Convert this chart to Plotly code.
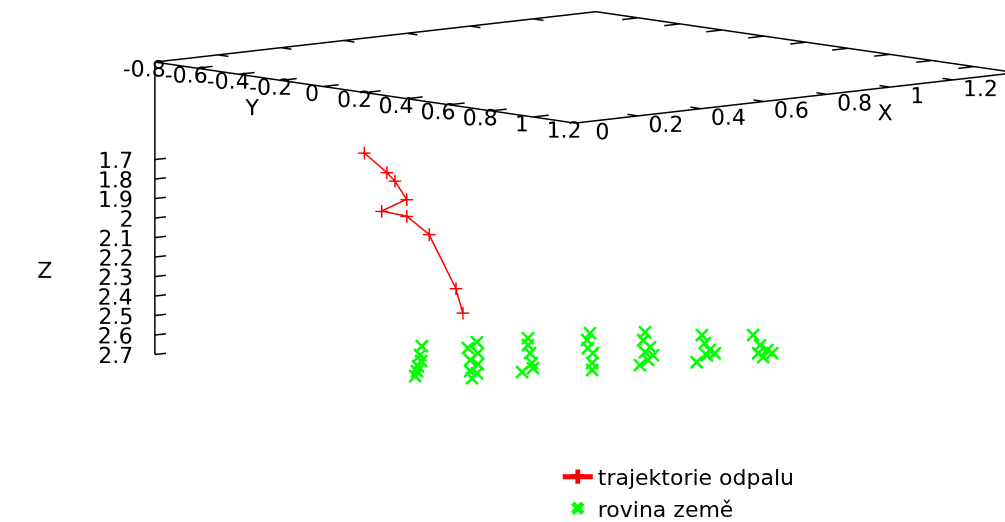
import plotly.graph_objects as go

# trajectory of the shot (x, y, z)
traj_x = [0.574, 0.613, 0.596, 0.604, 0.488, 0.543, 0.574, 0.581, 0.581]
traj_y = [-0.665, -0.616, -0.552, -0.508, -0.453, -0.416, -0.356, -0.239, -0.206]
traj_z = [1.75, 1.85, 1.88, 1.97, 2.00, 2.03, 2.12, 2.38, 2.50]

# ground plane points (x, y, z)
ground_x = [0.156, 0.153, 0.155, 0.149, 0.147, 0.144,
            0.266, 0.250, 0.268, 0.254, 0.268, 0.254, 0.266, 0.257,
            0.430, 0.430, 0.434, 0.437, 0.420, 0.439,
            0.565, 0.560, 0.561, 0.570, 0.569, 0.569,
            0.699, 0.696, 0.708, 0.699, 0.713, 0.705, 0.690,
            0.800, 0.805, 0.814, 0.823, 0.809, 0.791,
            0.916, 0.928, 0.941, 0.950, 0.934, 0.925]
ground_y = [0.237, 0.233, 0.235, 0.229, 0.227, 0.223,
            0.334, 0.315, 0.336, 0.320, 0.336, 0.320, 0.334, 0.324,
            0.331, 0.331, 0.335, 0.339, 0.318, 0.341,
            0.424, 0.418, 0.420, 0.430, 0.428, 0.428,
            0.485, 0.481, 0.495, 0.485, 0.502, 0.491, 0.474,
            0.604, 0.610, 0.620, 0.631, 0.614, 0.593,
            0.674, 0.689, 0.704, 0.714, 0.695, 0.685]
ground_z = [2.523, 2.569, 2.600, 2.626, 2.651, 2.677,
            2.508, 2.538, 2.564, 2.600, 2.621, 2.656, 2.667, 2.692,
            2.518, 2.554, 2.595, 2.646, 2.692, 2.672,
            2.503, 2.538, 2.579, 2.605, 2.656, 2.692,
            2.513, 2.554, 2.590, 2.615, 2.631, 2.656, 2.682,
            2.528, 2.569, 2.605, 2.621, 2.631, 2.667,
            2.538, 2.590, 2.615, 2.631, 2.651, 2.631]

# axis box (gnuplot style: base plane at z = 1.2, z axis down to 2.7)
x_ticks = [0, 0.2, 0.4, 0.6, 0.8, 1, 1.2]
y_ticks = [-0.8, -0.6, -0.4, -0.2, 0, 0.2, 0.4, 0.6, 0.8, 1, 1.2]
z_ticks = [1.7, 1.8, 1.9, 2, 2.1, 2.2, 2.3, 2.4, 2.5, 2.6, 2.7]
x_box = [0, 1.4]
y_box = [-0.8, 1.2]
z_box = [1.2, 2.7]

# visible window of the 3D scene (wider than the box so labels are not clipped)
x_view = [-0.42, 1.42]
y_view = [-1.2, 1.41]
z_view = [1.171, 3.171]

FONT = "DejaVu Sans"
FS = 22
PX_PER_ASPECT = 261.0          # screen pixels per scene aspect unit
PX_PER_UNIT = (421.1, 316.5, 196.6)   # wanted pixels per data unit on x, y, z

def fmt(v):
    return "{:g}".format(v)

fig = go.Figure()

# ---- box lines: base plane border + vertical z axis
x0, x1 = x_box
y0, y1 = y_box
zb, zt = z_box
bx = [x0, x1, x1, x0, x0, None, x0, x0]
by = [y1, y1, y0, y0, y1, None, y0, y0]
bz = [zb, zb, zb, zb, zb, None, zb, zt]

# tick marks (inward on the base edges, rightwards on the z axis)
TLX, TLY, TLZ = 0.05, 0.05, 0.035
tx, ty, tz = [], [], []
for t in x_ticks:
    tx += [t, t, None, t, t, None]
    ty += [y1, y1 - TLY, None, y0, y0 + TLY, None]
    tz += [zb, zb, None, zb, zb, None]
for t in y_ticks:
    tx += [x0, x0 + TLX, None, x1, x1 - TLX, None]
    ty += [t, t, None, t, t, None]
    tz += [zb, zb, None, zb, zb, None]
for t in z_ticks:
    tx += [x0, x0 + TLZ, None]
    ty += [y0, y0, None]
    tz += [t, t, None]

fig.add_trace(go.Scatter3d(x=bx + [None] + tx, y=by + [None] + ty, z=bz + [None] + tz,
                           mode="lines", line=dict(color="black", width=3),
                           showlegend=False, hoverinfo="skip"))

# ---- tick labels and axis titles as scene text
lab_font = dict(family=FONT, size=FS, color="black")
fig.add_trace(go.Scatter3d(x=x_ticks, y=[y1 + 0.13] * len(x_ticks), z=[zb + 0.02] * len(x_ticks),
                           mode="text", text=[fmt(t) for t in x_ticks],
                           textposition="middle center", textfont=lab_font,
                           showlegend=False, hoverinfo="skip"))
fig.add_trace(go.Scatter3d(x=[x0 - 0.035] * len(y_ticks), y=y_ticks, z=[zb + 0.025] * len(y_ticks),
                           mode="text", text=[fmt(t) for t in y_ticks],
                           textposition="middle center", textfont=lab_font,
                           showlegend=False, hoverinfo="skip"))
fig.add_trace(go.Scatter3d(x=[x0 - 0.005] * len(z_ticks), y=[y0] * len(z_ticks), z=z_ticks,
                           mode="text", text=[fmt(t) for t in z_ticks],
                           textposition="middle left", textfont=lab_font,
                           showlegend=False, hoverinfo="skip"))
fig.add_trace(go.Scatter3d(x=[0.884, -0.15, -0.35], y=[1.35, -0.113, y0], z=[1.283, 1.295, 2.2],
                           mode="text", text=["X", "Y", "Z"],
                           textposition="middle center", textfont=lab_font,
                           showlegend=False, hoverinfo="skip"))

# ---- data
fig.add_trace(go.Scatter3d(x=traj_x, y=traj_y, z=traj_z, mode="lines+markers",
                           name="trajektorie odpalu",
                           line=dict(color="#ff0000", width=3),
                           marker=dict(symbol="cross", size=7, color="#ff0000")))
fig.add_trace(go.Scatter3d(x=ground_x, y=ground_y, z=ground_z, mode="markers",
                           name="rovina země",
                           marker=dict(symbol="x", size=3, color="#00ff00")))

hidden = dict(visible=False, showspikes=False)
asp = [(v[1] - v[0]) * p / PX_PER_ASPECT for v, p in zip((x_view, y_view, z_view), PX_PER_UNIT)]

k = 2.0
fig.update_layout(
    width=1005, height=522,
    margin=dict(l=0, r=0, t=0, b=0, autoexpand=False),
    paper_bgcolor="white",
    font=dict(family=FONT, size=FS, color="black"),
    scene=dict(
        domain=dict(x=[0, 1], y=[0, 1]),
        xaxis=dict(range=x_view, **hidden),
        yaxis=dict(range=y_view, **hidden),
        zaxis=dict(range=z_view[::-1], **hidden),
        aspectmode="manual",
        aspectratio=dict(x=asp[0], y=asp[1], z=asp[2]),
        camera=dict(eye=dict(x=0.6580 * k, y=-0.7418 * k, z=-0.1288 * k),
                    up=dict(x=0, y=0, z=1),
                    center=dict(x=0, y=0, z=0),
                    projection=dict(type="orthographic")),
    ),
    legend=dict(x=0.555, y=-0.015, xanchor="left", yanchor="bottom",
                itemsizing="constant",
                bgcolor="rgba(0,0,0,0)", font=dict(family=FONT, size=FS)),
)

fig.write_html("out.html")
